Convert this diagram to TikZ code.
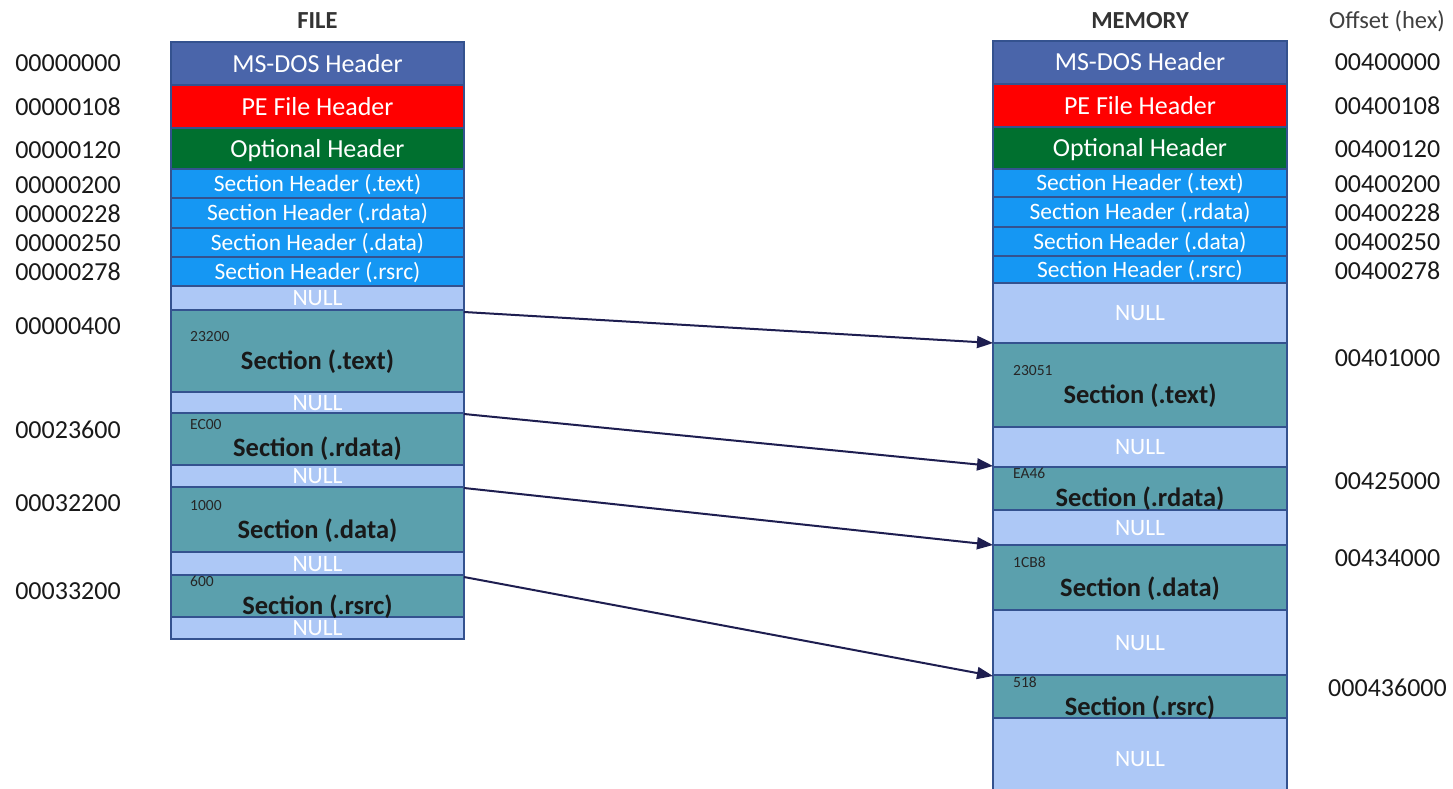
\documentclass[tikz,border=0pt]{standalone}
\usepackage{fontspec}
\setmainfont{Carlito}
\usetikzlibrary{arrows.meta}

\definecolor{dosblue}{HTML}{4A65AA}
\definecolor{pered}{HTML}{FF0000}
\definecolor{optgreen}{HTML}{00702F}
\definecolor{shblue}{HTML}{1597F3}
\definecolor{nullblue}{HTML}{ADC8F6}
\definecolor{secteal}{HTML}{5BA0AD}
\definecolor{framec}{HTML}{34528F}
\definecolor{arrowc}{HTML}{1E1E50}

\tikzset{
  blk/.style={draw=framec, line width=1.2pt, anchor=north west, inner sep=0pt, outer sep=0pt, text=white},
  hdr/.style={blk, line width=2pt, font=\fontsize{26}{30}\selectfont, text height=16.7pt, text depth=0pt},
  shdr/.style={blk, line width=2pt, fill=shblue, font=\fontsize{23.5}{28}\selectfont, text height=15.1pt, text depth=0pt},
  nullrow/.style={blk, fill=nullblue, font=\fontsize{23.5}{28}\selectfont, text height=15.1pt, text depth=0pt},
  secrow/.style={blk, fill=secteal},
  fcol/.style={minimum width=293pt},
  mcol/.style={minimum width=294pt},
  secname/.style={anchor=base, inner sep=0pt, font=\bfseries\fontsize{26.5}{30}\selectfont, text=black!90},
  sizelbl/.style={anchor=base west, inner sep=0pt, font=\fontsize{15.5}{18}\selectfont, text=black!85},
  offlbl/.style={inner sep=0pt, font=\fontsize{26}{30}\selectfont, text=black!90},
  coltitle/.style={anchor=base, inner sep=0pt, font=\bfseries\fontsize{24.5}{30}\selectfont, text=black!80},
  conn/.style={draw=arrowc, line width=2pt, -{Triangle[length=16pt,width=12pt]}},
}

\begin{document}
\begin{tikzpicture}[x=1pt, y=-1pt]
\useasboundingbox (0,0) rectangle (1453,789);
\fill[white] (0,0) rectangle (1453,789);
\clip (0,0) rectangle (1453,789);

% ---------- FILE column ----------
\node[hdr, fcol, fill=dosblue, minimum height=43.5pt] (fdos) at (171,42) {MS-DOS Header};
\node[hdr, fcol, fill=pered, minimum height=43pt] (fpe) at (171,85.5) {PE File Header};
\node[hdr, fcol, fill=optgreen, minimum height=40.5pt] (fopt) at (171,128.5) {Optional Header};
\node[shdr, fcol, minimum height=29pt] (fsh1) at (171,169) {Section Header (.text)};
\node[shdr, fcol, minimum height=30pt] (fsh2) at (171,198) {Section Header (.rdata)};
\node[shdr, fcol, minimum height=29pt] (fsh3) at (171,228) {Section Header (.data)};
\node[shdr, fcol, minimum height=29pt] (fsh4) at (171,257) {Section Header (.rsrc)};
\node[nullrow, fcol, minimum height=24pt] (fnull0) at (171,286) {NULL};
\node[secrow, fcol, minimum height=82pt] (fsec1) at (171,310) {};
\node[nullrow, fcol, minimum height=21pt] (fnull1) at (171,392) {NULL};
\node[secrow, fcol, minimum height=52pt] (fsec2) at (171,413) {};
\node[nullrow, fcol, minimum height=22pt] (fnull2) at (171,465) {NULL};
\node[secrow, fcol, minimum height=65pt] (fsec3) at (171,487) {};
\node[nullrow, fcol, minimum height=23pt] (fnull3) at (171,552) {NULL};
\node[secrow, fcol, minimum height=42pt] (fsec4) at (171,575) {};
\node[nullrow, fcol, minimum height=22pt] (fnull4) at (171,617) {NULL};
\draw[framec, line width=1.5pt] (fdos.north west) rectangle (fnull4.south east);

\node[sizelbl] (fsz1) at (190,341) {23200};
\node[secname] (fname1) at (317.5,369) {Section (.text)};
\node[sizelbl] (fsz2) at (190,429.3) {EC00};
\node[secname] (fname2) at (317.5,456.7) {Section (.rdata)};
\node[sizelbl] (fsz3) at (190,510) {1000};
\node[secname] (fname3) at (317.5,538) {Section (.data)};
\node[sizelbl] (fsz4) at (190,586) {600};
\node[secname] (fname4) at (317.5,614) {Section (.rsrc)};

% ---------- MEMORY column ----------
\node[hdr, mcol, fill=dosblue, minimum height=43pt] (mdos) at (993,41) {MS-DOS Header};
\node[hdr, mcol, fill=pered, minimum height=43.5pt] (mpe) at (993,84) {PE File Header};
\node[hdr, mcol, fill=optgreen, minimum height=41.5pt] (mopt) at (993,127.5) {Optional Header};
\node[shdr, mcol, minimum height=28pt] (msh1) at (993,169) {Section Header (.text)};
\node[shdr, mcol, minimum height=30pt] (msh2) at (993,197) {Section Header (.rdata)};
\node[shdr, mcol, minimum height=29pt] (msh3) at (993,227) {Section Header (.data)};
\node[shdr, mcol, minimum height=27pt] (msh4) at (993,256) {Section Header (.rsrc)};
\node[nullrow, mcol, minimum height=60pt] (mnull0) at (993,283) {NULL};
\node[secrow, mcol, minimum height=84pt] (msec1) at (993,343) {};
\node[nullrow, mcol, minimum height=40pt] (mnull1) at (993,427) {NULL};
\node[secrow, mcol, minimum height=43pt] (msec2) at (993,467) {};
\node[nullrow, mcol, minimum height=35pt] (mnull2) at (993,510) {NULL};
\node[secrow, mcol, minimum height=65pt] (msec3) at (993,545) {};
\node[nullrow, mcol, minimum height=65pt] (mnull3) at (993,610) {NULL};
\node[secrow, mcol, minimum height=43pt] (msec4) at (993,675) {};
\node[nullrow, mcol, minimum height=82pt] (mnull4) at (993,718) {NULL};
\draw[framec, line width=1.5pt] (mdos.north west) rectangle (mnull4.south east);

\node[sizelbl] (msz1) at (1013,375) {23051};
\node[secname] (mname1) at (1140,403) {Section (.text)};
\node[sizelbl] (msz2) at (1013,478) {EA46};
\node[secname] (mname2) at (1140,506) {Section (.rdata)};
\node[sizelbl] (msz3) at (1013,567) {1CB8};
\node[secname] (mname3) at (1140,596) {Section (.data)};
\node[sizelbl] (msz4) at (1013,687.7) {518};
\node[secname] (mname4) at (1140,715) {Section (.rsrc)};

% ---------- titles ----------
\node[coltitle] (tfile) at (317.5,29) {FILE};
\node[coltitle] (tmem) at (1140,28.5) {MEMORY};
\node[offlbl, anchor=base, font=\fontsize{24.5}{30}\selectfont, text=black!75] (toff) at (1387,29) {Offset (hex)};

% ---------- file offsets ----------
\node[offlbl] (fo1) at (68,63) {00000000};
\node[offlbl] (fo2) at (68,107) {00000108};
\node[offlbl] (fo3) at (68,150) {00000120};
\node[offlbl] (fo4) at (68,185) {00000200};
\node[offlbl] (fo5) at (68,214) {00000228};
\node[offlbl] (fo6) at (68,243) {00000250};
\node[offlbl] (fo7) at (68,272) {00000278};
\node[offlbl] (fo8) at (68,326.5) {00000400};
\node[offlbl] (fo9) at (68,430) {00023600};
\node[offlbl] (fo10) at (68,503) {00032200};
\node[offlbl] (fo11) at (68,591.5) {00033200};

% ---------- memory offsets ----------
\node[offlbl] (mo1) at (1387.5,62) {00400000};
\node[offlbl] (mo2) at (1387.5,105.5) {00400108};
\node[offlbl] (mo3) at (1387.5,149) {00400120};
\node[offlbl] (mo4) at (1387.5,184) {00400200};
\node[offlbl] (mo5) at (1387.5,213) {00400228};
\node[offlbl] (mo6) at (1387.5,242) {00400250};
\node[offlbl] (mo7) at (1387.5,271) {00400278};
\node[offlbl] (mo8) at (1387.5,358) {00401000};
\node[offlbl] (mo9) at (1387.5,481.5) {00425000};
\node[offlbl] (mo10) at (1387.5,558) {00434000};
\node[offlbl] (mo11) at (1387.5,688) {000436000};

% ---------- section mapping ----------
\draw[conn] ([yshift=-2pt]fsec1.north east) -- (msec1.north west);
\draw[conn] ([yshift=-1pt]fsec2.north east) -- ([yshift=1pt]msec2.north west);
\draw[conn] ([yshift=-1pt]fsec3.north east) -- (msec3.north west);
\draw[conn] ([yshift=-2pt]fsec4.north east) -- ([yshift=-1pt]msec4.north west);
\end{tikzpicture}
\end{document}
